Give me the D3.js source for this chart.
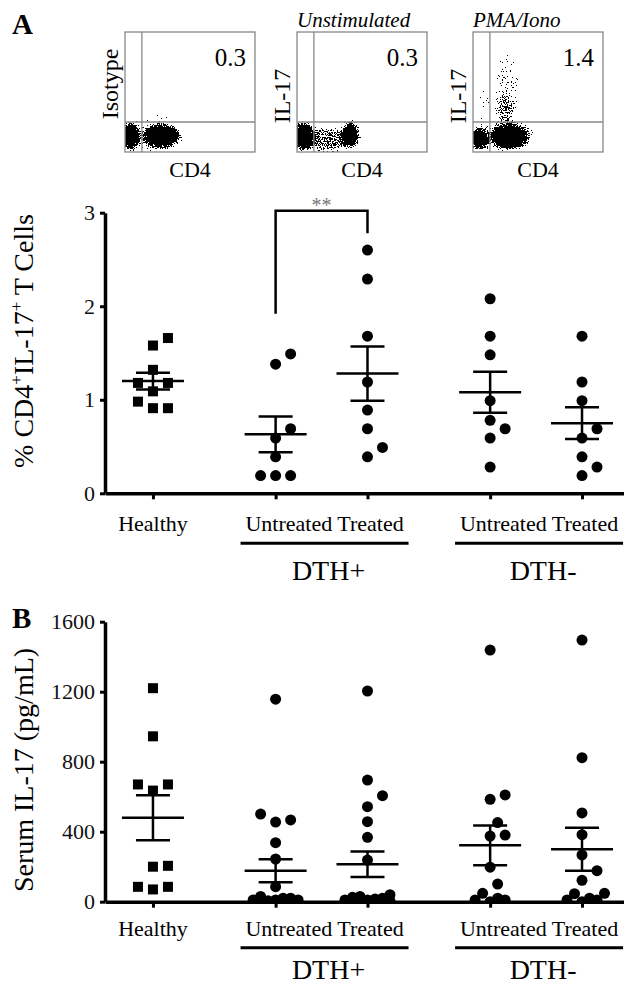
<!DOCTYPE html>
<html>
<head>
<meta charset="utf-8">
<script src="https://cdn.jsdelivr.net/npm/d3@7"></script>
<style>
  body { margin: 0; background: #fff; }
  svg { display: block; font-family: "Liberation Serif", "Times New Roman", serif; }
</style>
</head>
<body>
<div id="chart"></div>
<script>
// categories on the x axis
var groups = ["Healthy", "Untreated", "Treated", "Untreated", "Treated"];
var groupOf = ["", "DTH+", "DTH+", "DTH-", "DTH-"];

// panel A: % CD4+IL-17+ T cells
var cellsHealthy = [1.66, 1.58, 1.32, 1.18, 1.18, 1.09, 0.98, 0.91, 0.91];
var cellsPosUntreated = [1.49, 1.38, 0.69, 0.59, 0.39, 0.19, 0.19, 0.19];
var cellsPosTreated = [2.60, 2.29, 1.68, 1.19, 0.89, 0.69, 0.49, 0.39];
var cellsNegUntreated = [2.08, 1.68, 1.48, 0.99, 0.78, 0.69, 0.59, 0.28];
var cellsNegTreated = [1.68, 1.19, 0.99, 0.69, 0.59, 0.39, 0.28, 0.19];
var cellsMean = [1.20, 0.63, 1.28, 1.08, 0.75];
var cellsSem = [0.09, 0.19, 0.29, 0.22, 0.17];
var cellsTicks = [0, 1, 2, 3];
// ** bracket between DTH+ untreated and treated
var bracketTop = 3.02, bracketLeft = 1.92, bracketRight = 2.78;

// panel B: serum IL-17 (pg/mL)
var serumHealthy = [1220, 945, 670, 670, 635, 205, 200, 85, 85, 70];
var serumPosUntreated = [1157, 501, 467, 455, 337, 244, 86, 30, 20, 20, 10, 10, 10, 5, 0, 0, 0, 0];
var serumPosTreated = [1204, 695, 606, 543, 457, 368, 238, 40, 30, 25, 20, 15, 10, 10, 5, 5, 0, 0, 0, 0];
var serumNegUntreated = [1438, 610, 585, 452, 381, 375, 197, 101, 48, 20, 10, 10, 0];
var serumNegTreated = [1495, 823, 507, 383, 267, 177, 122, 48, 46, 20, 10, 10, 0];
var serumMean = [480, 177, 214, 322, 300];
var serumSem = [129, 66, 73, 114, 123];
var serumTicks = [0, 400, 800, 1200, 1600];

// flow plots: populations as [CD4, IL-17, spread CD4, spread IL-17, density], channels 0-100
var flowYLabels = ["Isotype", "IL-17", "IL-17"];
var flowTitles = ["", "Unstimulated", "PMA/Iono"];
var flowPercents = ["0.3", "0.3", "1.4"];
var flowGateCD4 = 13, flowGateIL17 = 25;
var isotypeEvents = [[4, 13, 7, 11, 1], [28, 13, 14, 9.5, 1], [22, 14, 22, 13, 0.2], [30, 31, 14, 7, 0.1]];
var unstimEvents = [[5, 13, 9, 11, 1], [41, 14, 6.5, 10.5, 1], [24, 10, 14, 10, 0.5],
                    [8, 31, 6, 7, 0.1], [42, 31, 6, 7, 0.1]];
var pmaEvents = [[5, 11, 7, 9, 1], [28, 13, 14.5, 10, 1], [24, 14, 24, 13, 0.22],
                 [26, 52, 9, 30, 0.24], [25, 36, 6, 12, 0.32], [8, 42, 8, 20, 0.1]];

var W = 624, H = 985;
var svg = d3.select("#chart").append("svg").attr("width", W).attr("height", H);
svg.append("rect").attr("width", W).attr("height", H).attr("fill", "#fff");
var defs = svg.append("defs");

// shared x positions (wider gap between groups)
var colPos = groupOf.map(function(g, i) {
  var breaks = 0;
  for (var j = 1; j <= i; j++) if (groupOf[j] !== groupOf[j - 1]) breaks++;
  return i + breaks * 0.335;
});
var x = d3.scaleLinear().domain([-0.522, 5.127]).range([105, 624]);

// column scatter: spread points sideways when they collide
function dodge(values, y, step, minDist, maxSlots) {
  var order = d3.range(values.length).sort(function(a, b) { return values[a] - values[b]; });
  var cands = [0];
  for (var k = 1; k <= maxSlots; k++) cands.push(k * step, -k * step);
  var placed = [], offs = [];
  order.forEach(function(i) {
    var py = y(values[i]), best = 0, bestD = -1;
    for (var c = 0; c < cands.length; c++) {
      var dmin = placed.length ? d3.min(placed, function(p) { return Math.hypot(p[0] - cands[c], p[1] - py); }) : Infinity;
      if (dmin >= minDist) { best = cands[c]; break; }
      if (dmin > bestD) { bestD = dmin; best = cands[c]; }
    }
    offs[i] = best;
    placed.push([best, py]);
  });
  return offs;
}

function drawPanel(opt) {
  var g = svg.append("g");
  var y = d3.scaleLinear().domain(opt.domain).range([opt.y0, opt.y1]);

  defs.append("clipPath").attr("id", opt.id + "-clip")
    .append("rect").attr("x", 105).attr("y", opt.y1 - 20).attr("width", 519).attr("height", opt.y0 - opt.y1 + 20);
  var dots = g.append("g").attr("clip-path", "url(#" + opt.id + "-clip)");

  opt.series.forEach(function(vals, i) {
    var offs = dodge(vals, y, 7.5, 14, 3);
    var cx = x(colPos[i]);
    if (i === 0) {
      dots.selectAll(null).data(vals).enter().append("rect")
        .attr("x", function(d, k) { return cx + offs[k] - 5; })
        .attr("y", function(d) { return y(d) - 5; })
        .attr("width", 10).attr("height", 10)
        .attr("fill", "#000");
    } else {
      dots.selectAll(null).data(vals).enter().append("circle")
        .attr("cx", function(d, k) { return cx + offs[k]; })
        .attr("cy", function(d) { return y(d); })
        .attr("r", 5.5)
        .attr("fill", "#000");
    }
  });

  // mean and SEM
  var bars = g.append("g").attr("stroke", "#000").attr("stroke-width", 2.5);
  opt.mean.forEach(function(m, i) {
    var cx = x(colPos[i]), s = opt.sem[i];
    bars.append("line").attr("x1", cx - 31).attr("x2", cx + 31).attr("y1", y(m)).attr("y2", y(m));
    bars.append("line").attr("x1", cx - 17).attr("x2", cx + 17).attr("y1", y(m + s)).attr("y2", y(m + s));
    bars.append("line").attr("x1", cx - 17).attr("x2", cx + 17).attr("y1", y(m - s)).attr("y2", y(m - s));
    bars.append("line").attr("x1", cx).attr("x2", cx).attr("y1", y(m + s)).attr("y2", y(m - s));
  });

  // axes
  var yAxis = g.append("g").attr("transform", "translate(105,0)")
    .call(d3.axisLeft(y).tickValues(opt.ticks).tickFormat(d3.format("d"))
      .tickSize(5).tickPadding(5).tickSizeOuter(0));
  var xAxis = g.append("g").attr("transform", "translate(0," + opt.y0 + ")")
    .call(d3.axisBottom(x).tickValues(colPos).tickSize(6).tickSizeOuter(0).tickFormat(""));
  [yAxis, xAxis].forEach(function(a) {
    a.attr("font-family", null).attr("font-size", null);
    a.select(".domain").attr("stroke", "#000").attr("stroke-width", 3.5);
    a.selectAll(".tick line").attr("stroke", "#000").attr("stroke-width", 3);
  });
  yAxis.selectAll(".tick text").attr("font-size", 22).attr("fill", "#111");

  // category labels
  g.append("text").attr("x", x(colPos[0])).attr("y", opt.y0 + opt.labelDy)
    .attr("text-anchor", "middle").attr("font-size", 22).text(groups[0]);
  [["DTH+", 1, 2], ["DTH-", 3, 4]].forEach(function(p) {
    var mid = (x(colPos[p[1]]) + x(colPos[p[2]])) / 2;
    g.append("text").attr("x", mid + 3).attr("y", opt.y0 + opt.labelDy)
      .attr("text-anchor", "middle").attr("font-size", 22)
      .text(groups[p[1]] + " " + groups[p[2]]);
    g.append("line").attr("x1", mid + 3 - 84).attr("x2", mid + 3 + 84)
      .attr("y1", opt.y0 + opt.lineDy).attr("y2", opt.y0 + opt.lineDy)
      .attr("stroke", "#000").attr("stroke-width", 3);
    g.append("text").attr("x", mid + 7).attr("y", opt.y0 + opt.groupDy)
      .attr("text-anchor", "middle").attr("font-size", 28).text(p[0]);
  });

  // y title (superscripts shift up, next part shifts back)
  var t = g.append("text")
    .attr("transform", "translate(" + opt.titleX + "," + opt.titleY + ") rotate(-90)")
    .attr("text-anchor", "middle").attr("font-size", 28);
  var back = 0;
  opt.title.forEach(function(part) {
    if (part.sup) {
      t.append("tspan").attr("font-size", 17).attr("dy", -11 + back).text(part.sup);
      back = 11;
    } else {
      t.append("tspan").attr("dy", back).text(part.txt);
      back = 0;
    }
  });

  if (opt.letter) {
    svg.append("text").attr("x", 12).attr("y", opt.letterY)
      .attr("font-size", 29).attr("font-weight", "bold").text(opt.letter);
  }
  return y;
}

var yA = drawPanel({
  id: "a", domain: [0, 3], y0: 493.3, y1: 212.7, ticks: cellsTicks,
  series: [cellsHealthy, cellsPosUntreated, cellsPosTreated, cellsNegUntreated, cellsNegTreated],
  mean: cellsMean, sem: cellsSem,
  labelDy: 38, lineDy: 50, groupDy: 87,
  title: [{ txt: "% CD4" }, { sup: "+" }, { txt: "IL-17" }, { sup: "+" }, { txt: " T Cells" }],
  titleX: 33, titleY: 341, letter: "", letterY: 0
});

// significance bracket
svg.append("path")
  .attr("d", "M" + x(colPos[1]) + "," + yA(bracketLeft) + "V" + yA(bracketTop) +
             "H" + x(colPos[2]) + "V" + yA(bracketRight))
  .attr("fill", "none").attr("stroke", "#000").attr("stroke-width", 2.5);
svg.append("text").attr("x", (x(colPos[1]) + x(colPos[2])) / 2).attr("y", yA(bracketTop) + 1)
  .attr("text-anchor", "middle").attr("font-size", 20).attr("fill", "#777").text("**");

drawPanel({
  id: "b", domain: [0, 1600], y0: 901.7, y1: 621.7, ticks: serumTicks,
  series: [serumHealthy, serumPosUntreated, serumPosTreated, serumNegUntreated, serumNegTreated],
  mean: serumMean, sem: serumSem,
  labelDy: 34, lineDy: 46, groupDy: 77,
  title: [{ txt: "Serum IL-17 (pg/mL)" }],
  titleX: 33, titleY: 770, letter: "B", letterY: 628
});

svg.append("text").attr("x", 12).attr("y", 34)
  .attr("font-size", 29).attr("font-weight", "bold").text("A");

// ---------- flow cytometry dot plots
var grain = defs.append("filter").attr("id", "grain")
  .attr("filterUnits", "userSpaceOnUse").attr("x", 0).attr("y", 0).attr("width", W).attr("height", 200)
  .attr("color-interpolation-filters", "sRGB");
grain.append("feGaussianBlur").attr("in", "SourceGraphic").attr("stdDeviation", 2.5).attr("result", "blur");
grain.append("feTurbulence").attr("type", "fractalNoise").attr("baseFrequency", 0.8)
  .attr("numOctaves", 2).attr("seed", 7).attr("result", "noise");
grain.append("feColorMatrix").attr("in", "noise").attr("type", "matrix")
  .attr("values", "0 0 0 0 0  0 0 0 0 0  0 0 0 0 0  2 0 0 0 -0.5").attr("result", "n");
grain.append("feComposite").attr("in", "blur").attr("in2", "n").attr("operator", "arithmetic")
  .attr("k1", 0).attr("k2", 1).attr("k3", 0.8).attr("k4", -0.4).attr("result", "sum");
var ct = grain.append("feComponentTransfer").attr("in", "sum");
ct.append("feFuncA").attr("type", "discrete").attr("tableValues", "0 1");

var flowLeft = [125, 297, 473], flowTop = 32, flowW = 130, flowH = 120;
[isotypeEvents, unstimEvents, pmaEvents].forEach(function(events, i) {
  var left = flowLeft[i];
  var fx = d3.scaleLinear().domain([0, 100]).range([left, left + flowW]);
  var fy = d3.scaleLinear().domain([0, 100]).range([flowTop + flowH, flowTop]);
  var g = svg.append("g");

  defs.append("clipPath").attr("id", "flow-clip" + i)
    .append("rect").attr("x", left).attr("y", flowTop).attr("width", flowW).attr("height", flowH);
  g.append("g").attr("clip-path", "url(#flow-clip" + i + ")")
    .append("g").attr("filter", "url(#grain)")
    .selectAll("ellipse").data(events).enter().append("ellipse")
    .attr("cx", function(d) { return fx(d[0]); })
    .attr("cy", function(d) { return fy(d[1]); })
    .attr("rx", function(d) { return fx(d[2]) - fx(0); })
    .attr("ry", function(d) { return fy(0) - fy(d[3]); })
    .attr("fill", "#000").attr("fill-opacity", function(d) { return d[4]; });

  g.append("rect").attr("x", left).attr("y", flowTop).attr("width", flowW).attr("height", flowH)
    .attr("fill", "none").attr("stroke", "#888").attr("stroke-width", 1.3);
  g.append("line").attr("x1", fx(flowGateCD4)).attr("x2", fx(flowGateCD4))
    .attr("y1", flowTop).attr("y2", flowTop + flowH).attr("stroke", "#888").attr("stroke-width", 1.3);
  g.append("line").attr("x1", left).attr("x2", left + flowW)
    .attr("y1", fy(flowGateIL17)).attr("y2", fy(flowGateIL17)).attr("stroke", "#888").attr("stroke-width", 1.3);

  g.append("text").attr("x", left + flowW - 9).attr("y", flowTop + 34)
    .attr("text-anchor", "end").attr("font-size", 25).text(flowPercents[i]);
  g.append("text").attr("x", left + flowW / 2).attr("y", 177)
    .attr("text-anchor", "middle").attr("font-size", 22).text("CD4");
  var labelMid = flowTop + (i === 0 ? 52 : 64);
  g.append("text").attr("transform", "translate(" + (left - 7) + "," + labelMid + ") rotate(-90)")
    .attr("text-anchor", "middle").attr("font-size", 24).text(flowYLabels[i]);
  if (flowTitles[i]) {
    g.append("text").attr("x", left).attr("y", 27)
      .attr("font-size", 21).attr("font-style", "italic").text(flowTitles[i]);
  }
});
</script>
</body>
</html>
